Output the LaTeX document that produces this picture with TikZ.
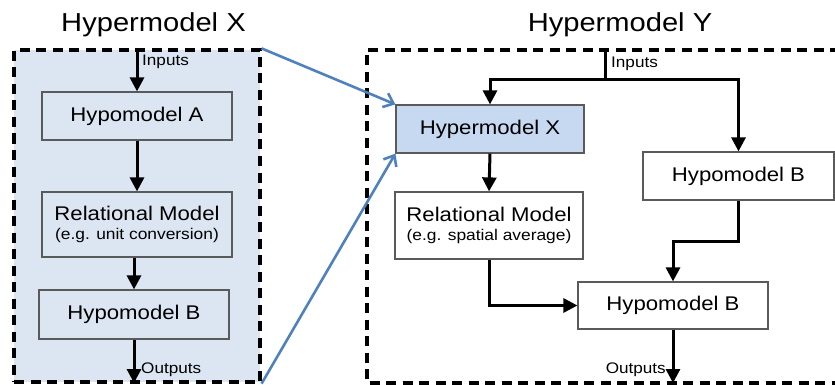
\documentclass[tikz,border=0pt]{standalone}
\usepackage{fontspec}
\setmainfont[FakeStretch=1.12]{Liberation Sans}
\usetikzlibrary{arrows.meta}
\definecolor{panelblue}{HTML}{DCE6F2}
\definecolor{boxblue}{HTML}{C6D9F1}
\definecolor{linkblue}{HTML}{4F81BD}
\definecolor{boxgray}{HTML}{5A5A5A}
\tikzset{
  panel/.style={draw=black, line width=3.2pt, dash pattern=on 10pt off 6.5pt, inner sep=0pt},
  mbox/.style={draw=boxgray, line width=1.2pt, inner sep=0pt, align=center, font=\fontsize{19.8}{21}\selectfont},
  flow/.style={draw=black, line width=3pt, -{Triangle[width=14pt,length=14pt]}},
  flowline/.style={draw=black, line width=3pt},
  link/.style={draw=linkblue, line width=2.6pt, -{Straight Barb[width=15pt,length=9pt,line width=2.6pt]}},
  title/.style={font=\fontsize{26}{28}\selectfont, anchor=base},
  small/.style={font=\fontsize{15.3}{17}\selectfont, inner sep=0pt},
}
\begin{document}
\begin{tikzpicture}[x=1pt,y=-1pt]
\useasboundingbox (0,0) rectangle (835,385);
\clip (0,0) rectangle (835,385);
% ---------- left panel ----------
\node[title] (tx) at (153.5,32) {Hypermodel X};
\node[panel, fill=panelblue, minimum width=246pt, minimum height=332pt] (lp) at (137,216) {};
\node[mbox, minimum width=190pt, minimum height=48pt] (A) at (137,116) {Hypomodel A};
\node[mbox, minimum width=190pt, minimum height=65pt] (R) at (137,224.5) {Relational Model\\[-2pt]{\fontsize{15.5}{17}\selectfont(e.g. unit conversion)}};
\node[mbox, minimum width=190pt, minimum height=49pt] (B) at (134,314.5) {Hypomodel B};
\coordinate (lin) at (137,50);
\coordinate (lout) at (134,383);
\draw[flow] (lin) -- (A.north);
\node[small, anchor=west] (lint) at (142,62) {Inputs};
\draw[flow] (A.south) -- (R.north);
\draw[flow] (R.south -| B.north) -- (B.north);
\draw[flow] (B.south) -- (lout);
\node[small, anchor=west] (loutt) at (141,370) {Outputs};
% ---------- right panel ----------
\node[title] (ty) at (620,32) {Hypermodel Y};
\coordinate (rp1) at (840,50);
\coordinate (rp2) at (367,50);
\coordinate (rp3) at (367,383);
\coordinate (rp4) at (840,383);
\draw[panel] (rp1) -- (rp2) -- (rp3) -- (rp4);
\node[mbox, fill=boxblue, minimum width=188pt, minimum height=48pt] (HX) at (490,129) {Hypermodel X};
\node[mbox, fill=white, minimum width=188pt, minimum height=67pt] (RR) at (489,225.5) {Relational Model\\[-2pt]{\fontsize{15.5}{17}\selectfont(e.g. spatial average)}};
\node[mbox, fill=white, minimum width=191pt, minimum height=48pt] (HB1) at (738.5,176) {Hypomodel B};
\node[mbox, fill=white, minimum width=190pt, minimum height=47pt] (HB2) at (673,305.5) {Hypomodel B};
\coordinate (rin) at (605,50);
\coordinate (rsplit) at (605,80);
\coordinate (rbend) at (673,241);
\coordinate (rout) at (673,383);
\draw[flowline] (rin) -- (rsplit);
\draw[flow] (rsplit) -| (HX.north);
\draw[flow] (rsplit) -| (HB1.north);
\node[small, anchor=west] (rint) at (611,64) {Inputs};
\draw[flow] (HX.south) -- (RR.north);
\draw[flow] (RR.south) |- (HB2.west);
\draw[flow] (HB1.south) |- (rbend) -- (HB2.north);
\draw[flow] (HB2.south) -- (rout);
\node[small, anchor=east] (routt) at (666,370) {Outputs};
% ---------- links ----------
\draw[link] (lp.north east) -- (HX.north west);
\draw[link] (lp.south east) -- (HX.south west);
\end{tikzpicture}
\end{document}
